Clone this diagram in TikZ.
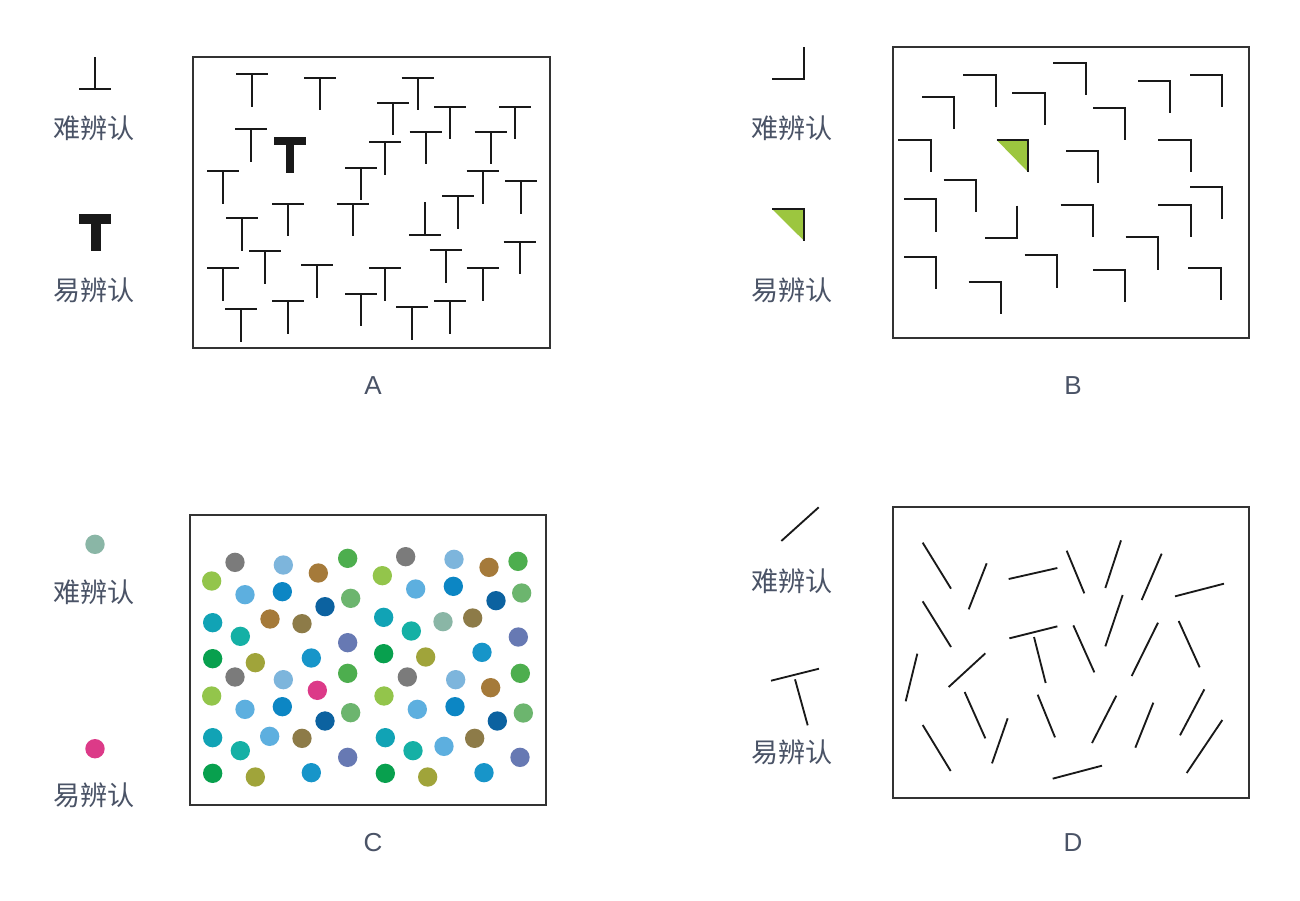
\documentclass[tikz,border=0pt]{standalone}
\usepackage{fontspec}
\newfontfamily\cjk{Noto Sans CJK SC}
\newfontfamily\lat{Liberation Sans}
\definecolor{txt}{HTML}{4A5366}
\definecolor{cgray}{HTML}{7B7B7B}
\definecolor{clblue}{HTML}{7DB5DC}
\definecolor{cbrown}{HTML}{A57A3A}
\definecolor{cgreen}{HTML}{4DAE4E}
\definecolor{cygreen}{HTML}{93C54B}
\definecolor{csky}{HTML}{5DAFDF}
\definecolor{cblue}{HTML}{0C86C4}
\definecolor{cdblue}{HTML}{0C62A0}
\definecolor{cmgreen}{HTML}{6CB56E}
\definecolor{cteal}{HTML}{11A3B5}
\definecolor{colbrown}{HTML}{8D7B48}
\definecolor{cggreen}{HTML}{8AB6A6}
\definecolor{ctgreen}{HTML}{15B0A5}
\definecolor{cslate}{HTML}{6779B3}
\definecolor{cdgreen}{HTML}{08A04E}
\definecolor{colive}{HTML}{A0A43A}
\definecolor{cblue2}{HTML}{1795C9}
\definecolor{cmag}{HTML}{DC3A88}
\definecolor{tri}{HTML}{9CC63F}
\begin{document}
\begin{tikzpicture}[x=0.02cm,y=-0.02cm,
  frame/.style={draw=black!80, line width=0.85pt},
  stroke/.style={draw=black!90, line width=1.05pt},
  lbl/.style={font=\cjk\fontsize{15.4}{18}\selectfont, text=txt, inner sep=0pt},
  letter/.style={font=\lat\fontsize{14.8}{16}\selectfont, text=txt, inner sep=0pt}
]
\useasboundingbox (0,0) rectangle (1300,900);
\fill[white] (0,0) rectangle (1300,900);

% ---------- Panel A ----------
\draw[frame] (193,57) rectangle (550,348);
\begin{scope}[shift={(190,55)}, scale=1/3]
  \foreach \x/\y in {186/57,391/68,683/68,610/143,780/155,975/155,183/222,586/262,707/230,902/230,100/349,513/338,878/349,993/379,157/489,294/446,488/446,805/424,226/589,99/640,381/630,586/640,767/586,878/640,989/560,153/762,294/738,513/716,667/756,780/738}
    \draw[stroke] (\x-48,\y) -- (\x+48,\y) (\x,\y) -- (\x,\y+98);
  \draw[stroke] (705,441) -- (705,539) (657,539) -- (753,539);
  \fill[black!90] (252,245) rectangle (348,270);
  \fill[black!90] (287,269) rectangle (312,355);
\end{scope}
\draw[stroke] (95,57) -- (95,89) (79,89) -- (111,89);
\fill[black!90] (79,214) rectangle (111,224);
\fill[black!90] (90.7,223.5) rectangle (100.7,251);
\node[lbl] (ahard) at (94,128) {难辨认};
\node[lbl] (aeasy) at (94,290) {易辨认};
\node[letter] (la) at (373,386) {A};

% ---------- Panel B ----------
\draw[frame] (893,47) rectangle (1249,338);
\begin{scope}[shift={(890,40)}, scale=1/3]
  \foreach \x/\y in {490/68,220/104,900/104,744/122,96/170,367/158,609/203,25/300,528/332,805/300,161/420,42/478,512/494,805/494,900/440,707/592,42/651,404/646,609/689,895/684,236/726}
    \draw[stroke, line join=miter] (\x,\y) -- (\x+97,\y) -- (\x+97,\y+97);
  \fill[tri] (320,300) -- (415,300) -- (415,397) -- cycle;
  \draw[stroke, line join=miter] (320,300) -- (415,300) -- (415,397);
  \draw[stroke, line join=miter] (382,497) -- (382,593) -- (286,593);
\end{scope}
\draw[stroke, line join=miter] (804.3,47.3) -- (804.3,79.3) -- (772,79.3);
\fill[tri] (772,209) -- (804.3,209) -- (804.3,241) -- cycle;
\draw[stroke, line join=miter] (772,209) -- (804.3,209) -- (804.3,241);
\node[lbl] (bhard) at (792,128) {难辨认};
\node[lbl] (beasy) at (792,290) {易辨认};
\node[letter] (lb) at (1073,386) {B};

% ---------- Panel C ----------
\draw[frame] (190,515) rectangle (546,805);
\begin{scope}[shift={(185,510)}, scale=1/3]
  \foreach \x/\y/\c in {150/157/cgray,295/165/clblue,400/189/cbrown,488/145/cgreen,662/140/cgray,807/148/clblue,912/172/cbrown,999/154/cgreen,
    80/213/cygreen,592/197/cygreen,180/254/csky,292/245/cblue,420/290/cdblue,497/265/cmgreen,692/237/csky,805/229/cblue,933/272/cdblue,1010/249/cmgreen,
    83/338/cteal,255/327/cbrown,351/341/colbrown,596/322/cteal,774/335/cggreen,863/324/colbrown,166/379/ctgreen,679/363/ctgreen,488/398/cslate,1000/381/cslate,
    83/446/cdgreen,211/458/colive,379/444/cblue2,596/431/cdgreen,722/441/colive,891/427/cblue2,
    150/501/cgray,295/509/clblue,397/541/cmag,488/490/cgreen,667/501/cgray,812/509/clblue,917/533/cbrown,1006/490/cgreen,
    80/558/cygreen,597/558/cygreen,180/598/csky,292/590/cblue,420/633/cdblue,497/608/cmgreen,697/598/csky,810/590/cblue,937/633/cdblue,1015/609/cmgreen,
    83/683/cteal,254/679/csky,351/685/colbrown,601/683/cteal,869/685/colbrown,166/722/ctgreen,684/722/ctgreen,777/709/csky,488/742/cslate,1005/742/cslate,
    83/790/cdgreen,211/801/colive,379/788/cblue2,601/790/cdgreen,728/801/colive,897/788/cblue2}
    \fill[\c] (\x,\y) circle[radius=29];
\end{scope}
\fill[cggreen] (95,544.3) circle[radius=9.7];
\fill[cmag] (95,748.7) circle[radius=9.7];
\node[lbl] (chard) at (94,592) {难辨认};
\node[lbl] (ceasy) at (94,795) {易辨认};
\node[letter] (lc) at (373,843) {C};

% ---------- Panel D ----------
\draw[frame] (893,507) rectangle (1249,798);
\begin{scope}[shift={(890,500)}, scale=1/3]
  \foreach \a/\b/\c/\d in {98/128/183/266,290/190/236/328,356/237/502/204,530/152/583/280,693/121/646/264,815/161/755/300,855/289/1002/251,
    98/304/183/441,358/415/502/379,432/411/467/549,550/376/613/517,698/285/646/439,804/368/725/528,866/363/929/502,
    82/461/47/604,286/460/176/561,224/576/286/715,443/584/495/712,679/587/606/729,790/608/736/743,943/568/870/706,
    98/675/182/813,353/655/306/790,997/660/890/819,488/836/636/797}
    \draw[stroke] (\a,\b) -- (\c,\d);
\end{scope}
\draw[stroke] (781.3,541) -- (818.7,507.3);
\draw[stroke] (771,680.7) -- (819,668.7);
\draw[stroke] (795,679.3) -- (807.7,725.3);
\node[lbl] (dhard) at (792,581) {难辨认};
\node[lbl] (deasy) at (792,752) {易辨认};
\node[letter] (ld) at (1073,843) {D};
\end{tikzpicture}
\end{document}
